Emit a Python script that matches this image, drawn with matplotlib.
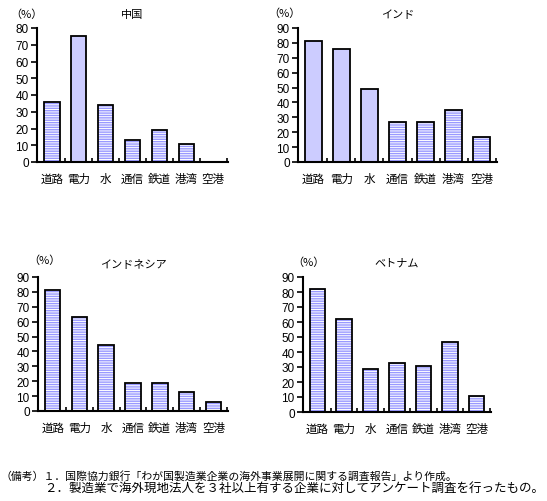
import matplotlib.pyplot as plt
import numpy as np

plt.rcParams['font.family'] = ['Noto Sans CJK JP', 'DejaVu Sans']
plt.rcParams['hatch.linewidth'] = 1.0

categories = ['道路', '電力', '水', '通信', '鉄道', '港湾', '空港']

china = [36, 75, 34, 13, 19, 11, 0]
india = [81, 76, 49, 27, 27, 35, 17]
indonesia = [81, 63, 44, 19, 19, 13, 6]
vietnam = [82, 62, 29, 33, 31, 47, 11]

# which bars are drawn solid (the rest are striped)
china_solid = [False, True, False, False, False, False, False]
india_solid = [True, True, True, False, False, False, False]
indonesia_solid = [False] * 7
vietnam_solid = [False] * 7

titles = ['中国', 'インド', 'インドネシア', 'ベトナム']
ymax = [80, 90, 90, 90]

note1 = '（備考）１．国際協力銀行「わが国製造業企業の海外事業展開に関する調査報告」より作成。'
note2 = '２．製造業で海外現地法人を３社以上有する企業に対してアンケート調査を行ったもの。'

W, H = 547, 502
# axes boxes in pixels: left, top, right, bottom
boxes = [(37, 29, 228, 163), (298, 29, 497, 163),
         (38, 278, 228, 412), (303, 278, 491, 413)]
pct_pos = [(10, 15), (268, 14), (28, 261), (292, 263)]

solid_c = '#CCCCFF'
stripe_c = '#9999FF'

fig = plt.figure(figsize=(W / 100, H / 100), dpi=100)

data = [china, india, indonesia, vietnam]
solids = [china_solid, india_solid, indonesia_solid, vietnam_solid]

for k in range(4):
    l, t, r, b = boxes[k]
    ax = fig.add_axes([l / W, 1 - b / H, (r - l) / W, (b - t) / H])
    x = np.arange(len(categories))
    vals = data[k]
    for i in range(len(x)):
        if vals[i] <= 0:
            continue
        if solids[k][i]:
            ax.bar(x[i], vals[i], width=0.58, color=solid_c, edgecolor='black', linewidth=1.3, zorder=2)
        else:
            ax.bar(x[i], vals[i], width=0.58, color='white', edgecolor=stripe_c, hatch='-------', linewidth=0, zorder=2)
            ax.bar(x[i], vals[i], width=0.58, fill=False, edgecolor='black', linewidth=1.3, zorder=3)
    ax.set_xlim(-0.55, 6.55)
    ax.set_ylim(0, ymax[k])
    ax.set_yticks(range(0, ymax[k] + 1, 10))
    ax.set_xticks(x)
    ax.set_xticklabels(categories, fontsize=8.3)
    ax.set_xticks(np.arange(0.5, 6.6, 1), minor=True)
    ax.tick_params(axis='x', which='major', length=0, pad=7)
    ax.tick_params(axis='x', which='minor', direction='in', length=3, width=1.2)
    ax.tick_params(axis='y', direction='out', length=4, width=1.2, labelsize=8.5, pad=2)
    for lab in ax.get_yticklabels():
        lab.set_family(['Liberation Sans', 'DejaVu Sans'])
    ax.spines['top'].set_visible(False)
    ax.spines['right'].set_visible(False)
    ax.spines['left'].set_linewidth(1.5)
    ax.spines['bottom'].set_linewidth(1.5)
    fig.text(((l + r) / 2) / W, 1 - (t - 14) / H, titles[k], ha='center', va='center', fontsize=8)
    px, py = pct_pos[k]
    fig.text(px / W, 1 - py / H, '（%）', ha='left', va='center', fontsize=8)

fig.text(0 / W, 1 - 480 / H, note1, ha='left', va='baseline', fontsize=7.8)
fig.text(44 / W, 1 - 492 / H, note2, ha='left', va='baseline', fontsize=9)

fig.savefig('out.png', dpi=100)
